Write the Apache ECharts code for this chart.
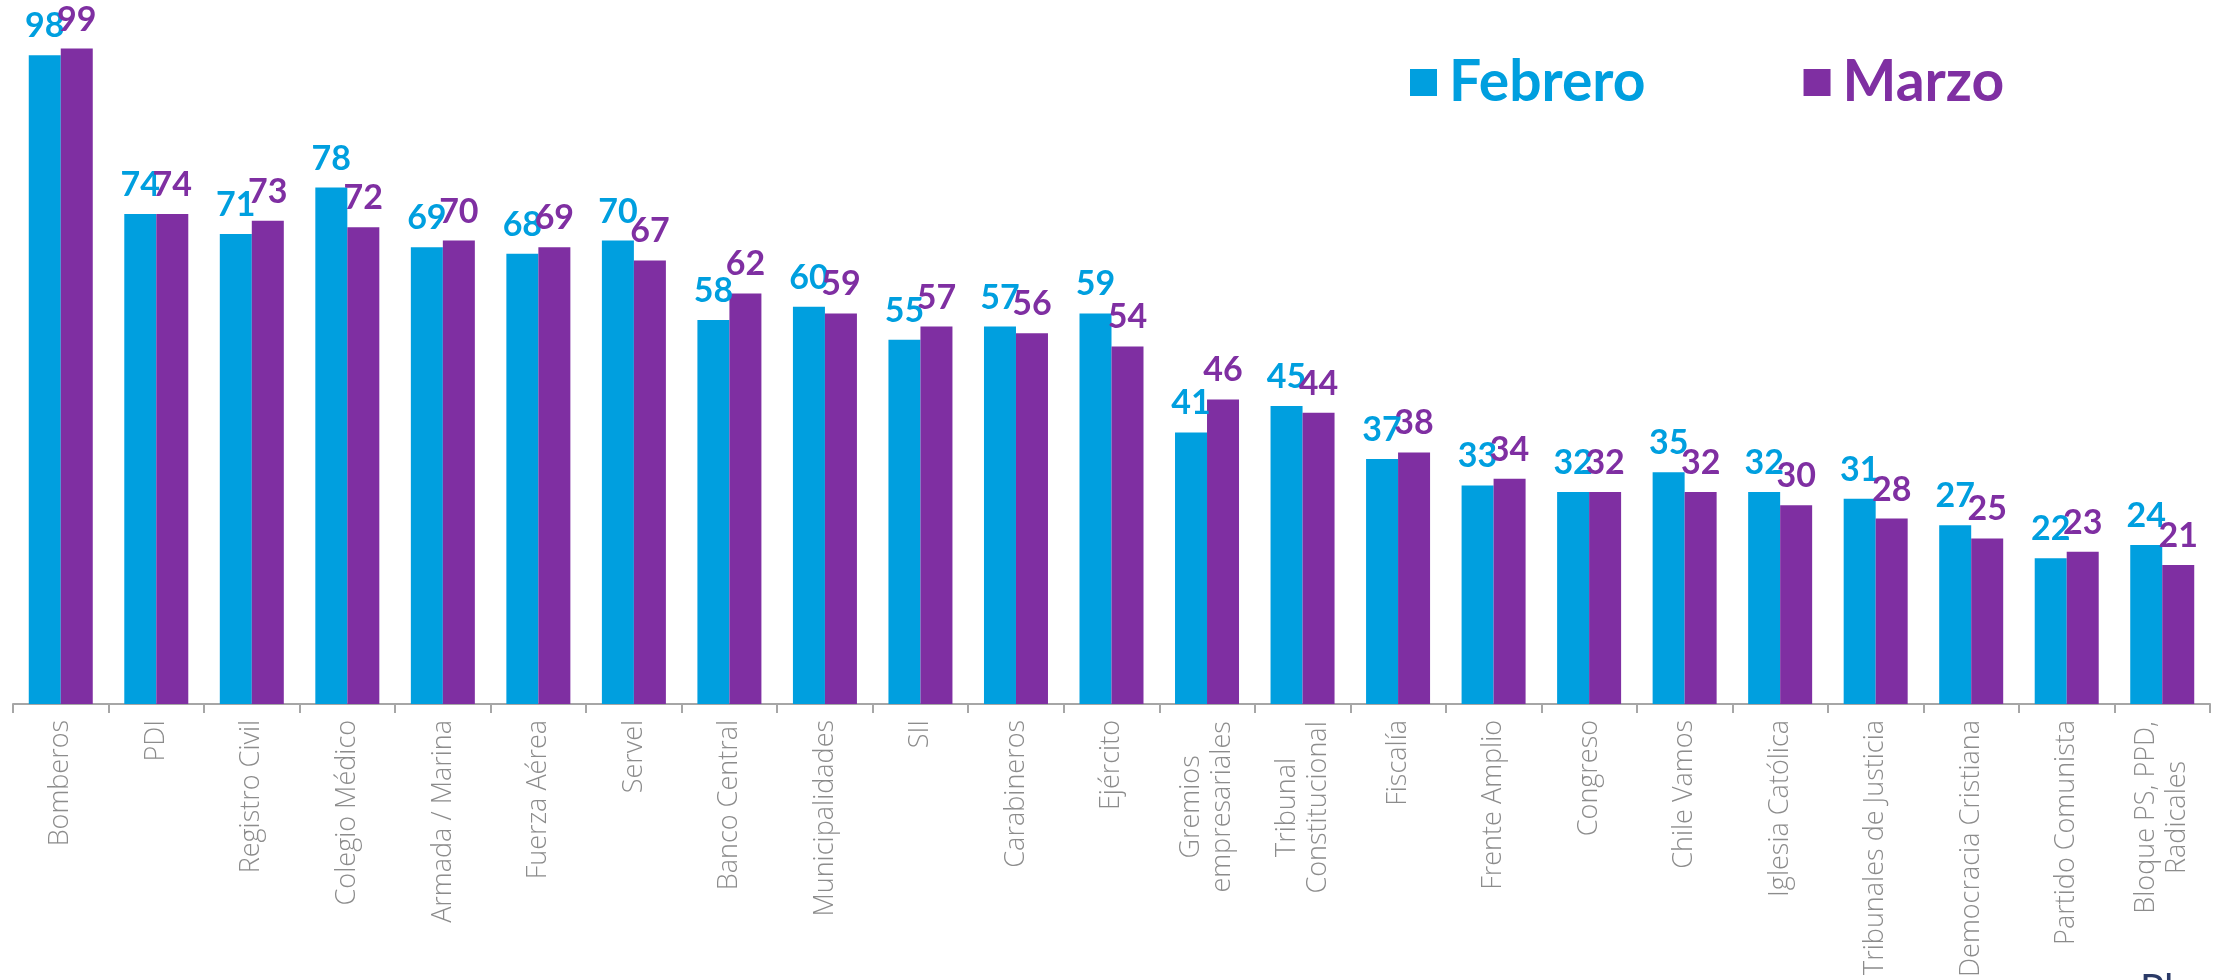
<!DOCTYPE html>
<html>
<head>
<meta charset="utf-8">
<script src="https://cdn.jsdelivr.net/npm/echarts@6/dist/echarts.min.js"></script>
<style>
  html, body { margin: 0; padding: 0; background: #ffffff; }
  #chart { width: 2221px; height: 980px; }
</style>
</head>
<body>
<div id="chart"></div>
<script>
const categories = ['Bomberos', 'PDI', 'Registro Civil', 'Colegio Médico', 'Armada / Marina', 'Fuerza Aérea', 'Servel', 'Banco Central', 'Municipalidades', 'SII', 'Carabineros', 'Ejército', 'Gremios\nempresariales', 'Tribunal\nConstitucional', 'Fiscalía', 'Frente Amplio', 'Congreso', 'Chile Vamos', 'Iglesia Católica', 'Tribunales de Justicia', 'Democracia Cristiana', 'Partido Comunista', 'Bloque PS, PPD,\nRadicales'];
const febrero = [98, 74, 71, 78, 69, 68, 70, 58, 60, 55, 57, 59, 41, 45, 37, 33, 32, 35, 32, 31, 27, 22, 24];
const marzo = [99, 74, 73, 72, 70, 69, 67, 62, 59, 57, 56, 54, 46, 44, 38, 34, 32, 32, 30, 28, 25, 23, 21];
const seriesNames = ['Febrero', 'Marzo'];

const COL_FEB = '#009FDF';
const COL_MAR = '#7F2FA2';
const AXIS_FONT = 'Open Sans';
const AXIS_SIZE = 27;
const AXIS_COLOR = '#8c8c8c';

// measure multi-line labels so that lines are centred
const cv = document.createElement('canvas').getContext('2d');
cv.font = '300 ' + AXIS_SIZE + 'px "' + AXIS_FONT + '"';
const rich = {};
categories.forEach((c, i) => {
  if (c.indexOf('\n') >= 0) {
    const w = Math.max.apply(null, c.split('\n').map(l => cv.measureText(l).width));
    rich['m' + i] = {
      width: Math.ceil(w) + 2, align: 'center', fontFamily: AXIS_FONT, fontSize: AXIS_SIZE,
      fontWeight: 300, color: AXIS_COLOR, lineHeight: 31
    };
  }
});

const chart = echarts.init(document.getElementById('chart'));
const labelStyle = (color) => ({
  show: true, position: 'top', distance: 12, color: color,
  fontFamily: 'Lato', fontWeight: 'bold', fontSize: 34
});
chart.setOption({
  animation: false,
  backgroundColor: '#ffffff',
  grid: { left: 13, right: 11, top: 42, bottom: 276, containLabel: false },
  legend: {
    left: 1405, top: 49, icon: 'rect', itemWidth: 27, itemHeight: 27, itemGap: 158,
    textStyle: { fontFamily: 'Lato', fontWeight: 'bold', fontSize: 57, padding: [0, 0, 0, 7] },
    data: [
      { name: seriesNames[0], textStyle: { color: COL_FEB } },
      { name: seriesNames[1], textStyle: { color: COL_MAR } }
    ]
  },
  xAxis: {
    type: 'category', data: categories,
    axisLine: { lineStyle: { color: '#a6a6a6', width: 2 } },
    axisTick: { show: true, length: 9, lineStyle: { color: '#a6a6a6', width: 2 } },
    axisLabel: {
      rotate: 90, margin: 16, interval: 0,
      fontFamily: AXIS_FONT, fontWeight: 300, fontSize: AXIS_SIZE, color: AXIS_COLOR, lineHeight: 31,
      formatter: function (value, idx) {
        if (value.indexOf('\n') < 0) return value;
        const i = categories.indexOf(value);
        return value.split('\n').map(l => '{m' + i + '|' + l + '}').join('\n');
      },
      rich: rich
    }
  },
  yAxis: { type: 'value', min: 0, max: 100, show: false, splitLine: { show: false } },
  series: [
    {
      name: seriesNames[0], type: 'bar', data: febrero, barGap: '0%', barCategoryGap: '33%',
      itemStyle: { color: COL_FEB }, label: labelStyle(COL_FEB)
    },
    {
      name: seriesNames[1], type: 'bar', data: marzo, barGap: '0%', barCategoryGap: '33%',
      itemStyle: { color: COL_MAR }, label: labelStyle(COL_MAR)
    }
  ],
  graphic: [
    { type: 'text', left: 2140, top: 970, style: { text: 'Plaza', fontFamily: 'Lato', fontSize: 40, fill: '#2b3a67' } }
  ]
});
</script>
</body>
</html>
